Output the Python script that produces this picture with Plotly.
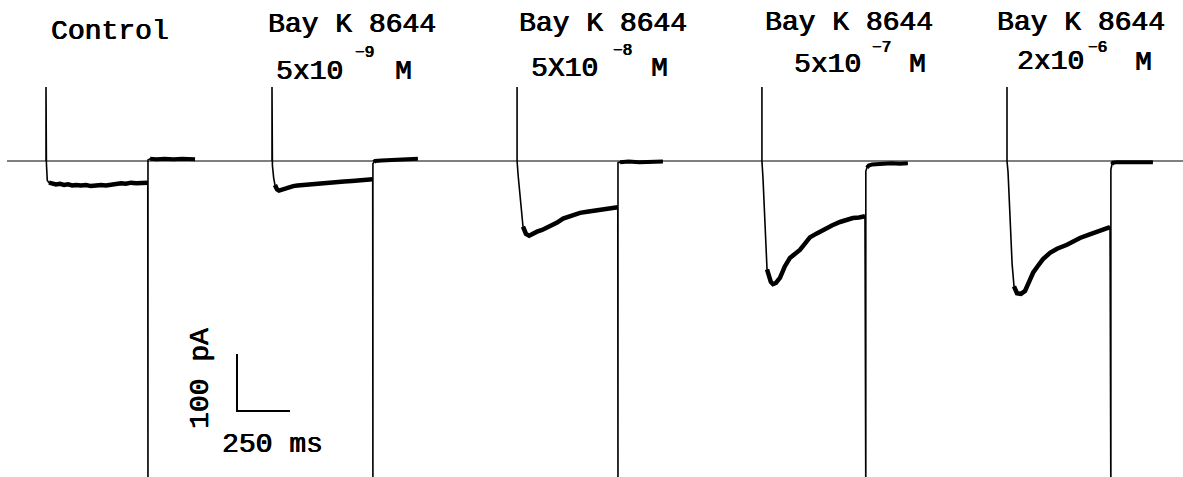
import plotly.graph_objects as go

# ---------------- data (ms, pA) ----------------
sweep_labels = ["Control", "Bay K 8644", "Bay K 8644", "Bay K 8644", "Bay K 8644"]
conc_mantissa = ["", "5x10", "5X10", "5x10", "2x10"]
conc_exponent = ["", "\u22129", "\u22128", "\u22127", "\u22126"]
conc_unit = ["", "M", "M", "M", "M"]

sweep_onset_ms = [217, 1283, 2439, 3594, 4750]
tail_ms = [481, 476, 476, 490, 490]

cap_spike_up_pA = 130
cap_spike_down_pA = -600

ctrl_t = [2, 6, 14, 28, 47, 66, 85, 104, 123, 142, 165, 189, 212, 236, 259, 283, 307, 330, 354, 377, 401, 425, 448, 472, 480]
ctrl_i = [-5, -34, -38, -40, -41, -40, -42, -41, -43, -42, -43, -42, -44, -43, -42, -43, -41, -40, -39, -40, -38, -39, -38, -37, -38]
ctrl_hold_t = [0, 10, 40, 80, 120, 160, 200, 222]
ctrl_hold_i = [2, 4, 3, 4, 3, 4, 3, 3]

bay9_t = [2, 8, 14, 24, 33, 47, 60, 71, 85, 100, 120, 146, 170, 190, 212, 240, 270, 307, 340, 377, 410, 440, 472, 475]
bay9_i = [-8, -30, -42, -50, -52, -50, -48, -47, -46, -44, -43, -42, -41, -40, -40, -39, -38, -37, -36, -35, -34, -33, -32, -32]
bay9_hold_t = [0, 5, 10, 40, 80, 120, 160, 212]
bay9_hold_i = [-5, -2, 0, 1, 2, 3, 4, 4]

bay8_t = [5, 14, 28, 42, 57, 71, 94, 118, 142, 165, 189, 217, 245, 270, 297, 330, 360, 390, 420, 450, 472, 475]
bay8_i = [-25, -60, -115, -128, -131, -128, -124, -121, -117, -113, -108, -101, -97, -94, -91, -89, -87, -85, -84, -82, -81, -81]
bay8_hold_t = [0, 10, 50, 100, 150, 212]
bay8_hold_i = [-3, -2, -1, -2, -1, -1]

bay7_t = [5, 14, 24, 33, 42, 52, 66, 85, 108, 132, 156, 179, 203, 226, 259, 288, 330, 368, 401, 429, 458, 486]
bay7_i = [-30, -110, -190, -205, -212, -216, -214, -205, -185, -170, -162, -156, -145, -134, -127, -121, -113, -107, -103, -100, -99, -97]
bay7_hold_t = [0, 5, 14, 30, 80, 120, 160, 198]
bay7_hold_i = [-18, -12, -8, -6, -5, -4, -5, -4]

bay6_t = [5, 14, 24, 33, 47, 66, 85, 104, 123, 142, 170, 203, 236, 283, 316, 344, 387, 425, 458, 486]
bay6_i = [-20, -90, -180, -220, -232, -233, -228, -212, -196, -186, -172, -161, -154, -147, -140, -135, -129, -124, -120, -116]
bay6_hold_t = [0, 5, 10, 30, 80, 130, 198]
bay6_hold_i = [-15, -6, -3, -2, -2, -2, -2]

pulse_t = [ctrl_t, bay9_t, bay8_t, bay7_t, bay6_t]
pulse_i = [ctrl_i, bay9_i, bay8_i, bay7_i, bay6_i]
hold_t = [ctrl_hold_t, bay9_hold_t, bay8_hold_t, bay7_hold_t, bay6_hold_t]
hold_i = [ctrl_hold_i, bay9_hold_i, bay8_hold_i, bay7_hold_i, bay6_hold_i]

scale_bar_pA = 100
scale_bar_ms = 250

# ---------------- figure ----------------
W, H = 1183, 477
MS_PER_PX = 250 / 53
PA_PER_PX = 100 / 57
BASE_PX = 161
x_range = [0, W * MS_PER_PX]
y_range = [(BASE_PX - H) * PA_PER_PX, BASE_PX * PA_PER_PX]

fig = go.Figure()

# zero-current reference line
fig.add_trace(go.Scatter(x=[7 * MS_PER_PX, x_range[1]], y=[0, 0], mode="lines",
                         line=dict(color="black", width=1.2), hoverinfo="skip"))

for k in range(5):
    t0 = sweep_onset_ms[k]
    tt = tail_ms[k]
    xs = [t0, t0, t0] + [t0 + v for v in pulse_t[k]] + [t0 + tt, t0 + tt] + [t0 + tt + v for v in hold_t[k]]
    ys = [0, cap_spike_up_pA, 0] + pulse_i[k] + [cap_spike_down_pA, hold_i[k][0]] + hold_i[k]
    fig.add_trace(go.Scatter(x=xs, y=ys, mode="lines", line=dict(color="black", width=1.6),
                             hoverinfo="skip"))
    # noisy plateau (thicker band)
    mn = min(pulse_i[k])
    start = next(j for j, v in enumerate(pulse_i[k]) if v <= 0.8 * mn)
    fig.add_trace(go.Scatter(x=[t0 + v for v in pulse_t[k][start:]], y=pulse_i[k][start:], mode="lines",
                             line=dict(color="black", width=4.5), hoverinfo="skip"))
    fig.add_trace(go.Scatter(x=[t0 + tt + v for v in hold_t[k][1:]], y=hold_i[k][1:], mode="lines",
                             line=dict(color="black", width=4), hoverinfo="skip"))

# scale bar
sb_x0 = 237 * MS_PER_PX
sb_y0 = (BASE_PX - 411) * PA_PER_PX
fig.add_trace(go.Scatter(x=[sb_x0, sb_x0, sb_x0 + scale_bar_ms],
                         y=[sb_y0 + scale_bar_pA, sb_y0, sb_y0],
                         mode="lines", line=dict(color="black", width=2), hoverinfo="skip"))

FAMILY = "Liberation Mono, Courier New, monospace"
SHADOW = "0.6px 0px 0px #000, -0.3px 0px 0px #000"

def ann(text, px, py, size=28, **kw):
    fig.add_annotation(text=text, x=px / W, y=1 - py / H, xref="paper", yref="paper",
                       showarrow=False,
                       font=dict(family=FAMILY, size=size, color="black", shadow=SHADOW),
                       xanchor="center", yanchor="middle", **kw)

label_pos = [(110, 31), (352, 24.5), (603, 24), (849, 22.5), (1081, 22.5)]
mant_pos = [None, (310, 72), (564, 68), (827, 64), (1050, 61)]
exp_pos = [None, (364.5, 53), (622, 51), (881, 48), (1097, 47.5)]
unit_pos = [None, (403, 72), (659, 68), (918, 64), (1143, 62)]
for k in range(5):
    ann(sweep_labels[k], *label_pos[k])
    if conc_mantissa[k]:
        ann(conc_mantissa[k], *mant_pos[k])
        ann(conc_exponent[k], *exp_pos[k], size=16)
        ann(conc_unit[k], *unit_pos[k])

ann(f"{scale_bar_pA} pA", 200, 379, textangle=-90)
ann(f"{scale_bar_ms} ms", 272, 444)

fig.update_xaxes(visible=False, range=x_range, fixedrange=True)
fig.update_yaxes(visible=False, range=y_range, fixedrange=True)
fig.update_layout(width=W, height=H, margin=dict(l=0, r=0, t=0, b=0),
                  paper_bgcolor="white", plot_bgcolor="white", showlegend=False)

fig.write_html("out.html", config={"displayModeBar": False},
               post_script="document.body.style.margin='0';document.body.style.overflow='hidden';")
